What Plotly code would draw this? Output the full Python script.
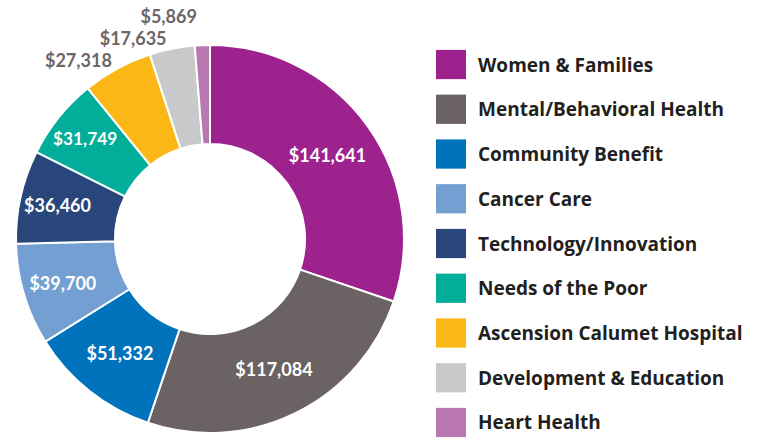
import plotly.graph_objects as go

categories = ["Women & Families", "Mental/Behavioral Health", "Community Benefit",
              "Cancer Care", "Technology/Innovation", "Needs of the Poor",
              "Ascension Calumet Hospital", "Development & Education", "Heart Health"]
amounts = [141641, 117084, 51332, 39700, 36460, 31749, 27318, 17635, 5869]
colors = ["#9e228e", "#6b6264", "#0073bc", "#739fd2", "#28467a",
          "#00ae99", "#fbb716", "#c8c9cb", "#ba78b2"]
label_pos = ["inside"] * 6 + ["outside"] * 3

FONT = "Lato"
LEG_FONT = "Open Sans"
W, H = 757, 438
fig = go.Figure()
fig.add_trace(go.Pie(
    labels=categories, values=amounts, sort=False, direction="clockwise", rotation=0,
    hole=0.49,
    marker=dict(colors=colors, line=dict(color="white", width=2)),
    texttemplate="$%{value:,}", textposition=label_pos,
    insidetextorientation="horizontal",
    insidetextfont=dict(family=FONT, size=18, color="white", weight="bold"),
    outsidetextfont=dict(family=FONT, size=18, color="#6d6668", weight="bold"),
    domain=dict(x=[11 / W, 409 / W], y=[1 / H, 399 / H]),
    showlegend=False, hoverinfo="label+value",
))

# legend: colour squares with labels
x0, sq, row0, step = 436, 30, 59, 45.9
for i, (name, c) in enumerate(zip(categories, colors)):
    yc = row0 + step * i
    fig.add_shape(type="rect", xref="paper", yref="paper",
                  x0=x0 / W, x1=(x0 + sq) / W,
                  y0=1 - (yc + sq / 2) / H, y1=1 - (yc - sq / 2) / H,
                  fillcolor=c, line=dict(width=0))
    fig.add_annotation(xref="paper", yref="paper", x=476 / W, y=1 - yc / H,
                       xanchor="left", yanchor="middle", showarrow=False, text=name,
                       font=dict(family=LEG_FONT, size=19, color="#231f20", weight="bold"))

fig.update_layout(width=W, height=H, margin=dict(l=0, r=0, t=0, b=0),
                  paper_bgcolor="white", plot_bgcolor="white")
post = ("document.body.style.margin='0';"
        "var s=document.createElement('style');"
        "s.textContent='.textline{display:none}';document.head.appendChild(s);")
fig.write_html("out.html", post_script=post, config={"displayModeBar": False})
